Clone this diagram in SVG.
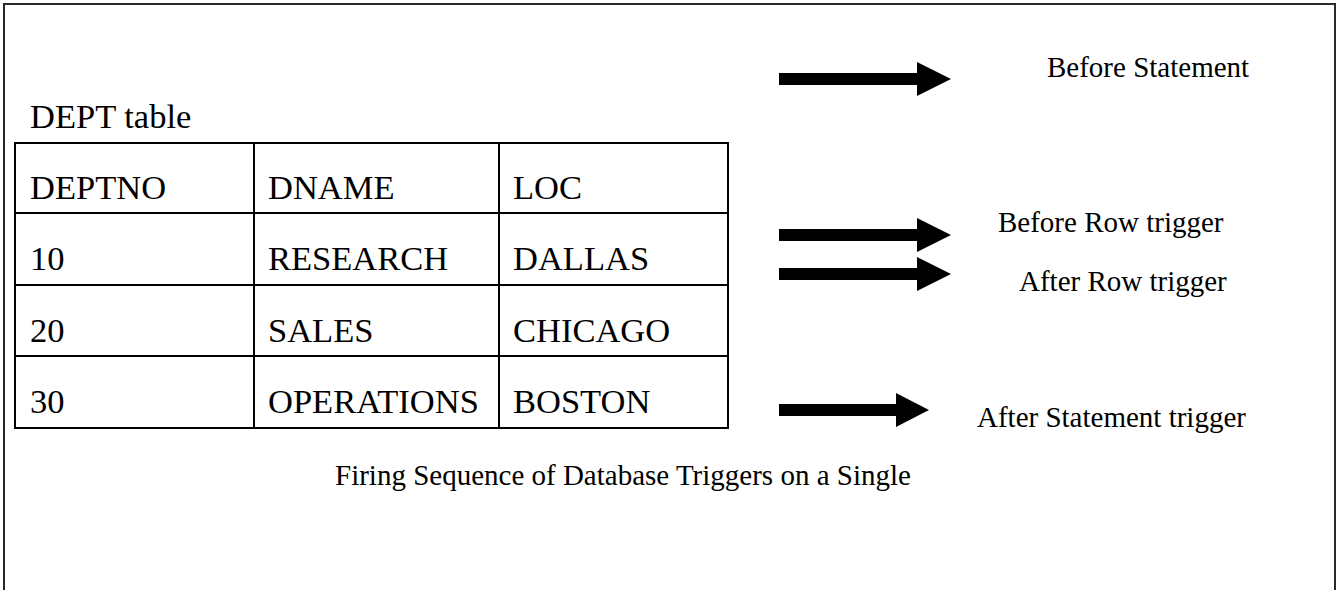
<svg xmlns="http://www.w3.org/2000/svg" width="1339" height="590" viewBox="0 0 1339 590">
  <style>
    .frame { fill: #ffffff; stroke: #2a2a2a; stroke-width: 2; }
    .grid { fill: none; stroke: #000000; stroke-width: 2; }
    .cell { font-family: "Liberation Serif", "Times New Roman", serif; font-size: 34.5px; fill: #000000; }
    .label { font-family: "Liberation Serif", "Times New Roman", serif; font-size: 29px; fill: #000000; }
    .arrow { fill: #000000; }
  </style>
  <defs>
    <!-- block arrow: 12px shaft, 34px tall head; origin at shaft start, centred vertically -->
    <path id="blockArrowLong" d="M0,-6 H138 V-17 L172,0 L138,17 V6 H0 Z"/>
    <path id="blockArrowShort" d="M0,-6 H117 V-17 L150,0 L117,17 V6 H0 Z"/>
  </defs>

  <!-- outer page frame (bottom edge runs past the view) -->
  <rect class="frame" x="4" y="4" width="1331" height="600"/>

  <!-- DEPT table -->
  <g id="dept-table">
    <text class="cell" x="30" y="128">DEPT table</text>
    <rect class="grid" x="15" y="143" width="713" height="285"/>
    <line class="grid" x1="15" y1="213" x2="728" y2="213"/>
    <line class="grid" x1="15" y1="285" x2="728" y2="285"/>
    <line class="grid" x1="15" y1="356" x2="728" y2="356"/>
    <line class="grid" x1="254" y1="143" x2="254" y2="428"/>
    <line class="grid" x1="499" y1="143" x2="499" y2="428"/>

    <text class="cell" x="30" y="199">DEPTNO</text>
    <text class="cell" x="268" y="199">DNAME</text>
    <text class="cell" x="513" y="199">LOC</text>

    <text class="cell" x="30" y="270">10</text>
    <text class="cell" x="268" y="270">RESEARCH</text>
    <text class="cell" x="513" y="270">DALLAS</text>

    <text class="cell" x="30" y="342">20</text>
    <text class="cell" x="268" y="342">SALES</text>
    <text class="cell" x="513" y="342">CHICAGO</text>

    <text class="cell" x="30" y="413">30</text>
    <text class="cell" x="268" y="413">OPERATIONS</text>
    <text class="cell" x="513" y="413">BOSTON</text>
  </g>

  <!-- trigger arrows -->
  <g id="connectors">
    <use class="arrow" href="#blockArrowLong" x="779" y="79"/>
    <use class="arrow" href="#blockArrowLong" x="779" y="235"/>
    <use class="arrow" href="#blockArrowLong" x="779" y="274"/>
    <use class="arrow" href="#blockArrowShort" x="779" y="410"/>
  </g>

  <!-- trigger labels -->
  <g id="before-statement">
    <text class="label" x="1047" y="77">Before Statement</text>
  </g>
  <g id="before-row">
    <text class="label" x="998" y="232">Before Row trigger</text>
  </g>
  <g id="after-row">
    <text class="label" x="1019" y="291">After Row trigger</text>
  </g>
  <g id="after-statement">
    <text class="label" x="977" y="427">After Statement trigger</text>
  </g>

  <!-- caption -->
  <g id="caption">
    <text class="label" x="335" y="485">Firing Sequence of Database Triggers on a Single</text>
  </g>
</svg>
